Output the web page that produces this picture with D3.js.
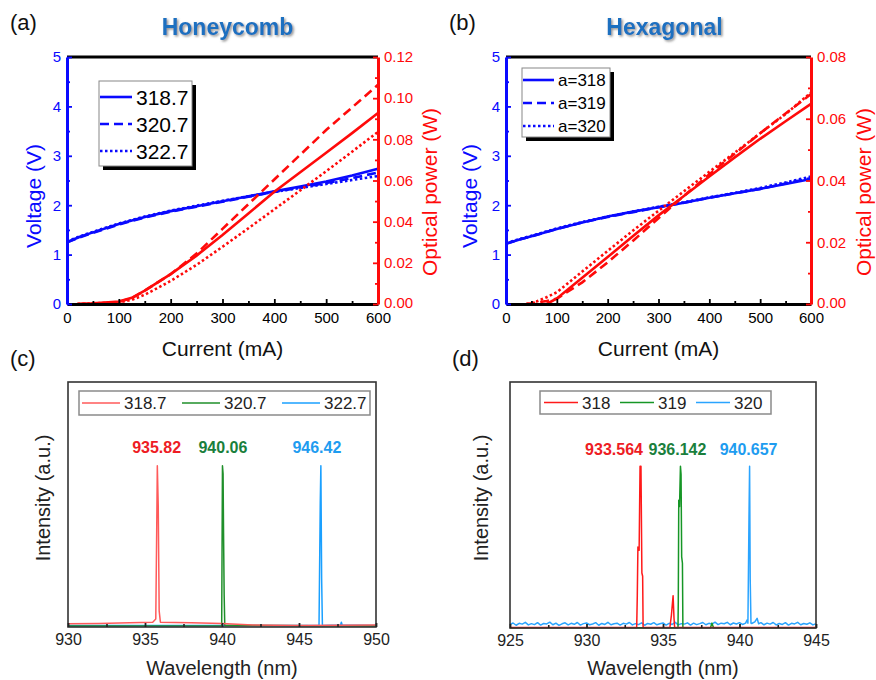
<!DOCTYPE html>
<html>
<head>
<meta charset="utf-8">
<script src="https://cdn.jsdelivr.net/npm/d3@7"></script>
<style>
body{margin:0;background:#fff}
svg{display:block}
text{font-family:"Liberation Sans",Arial,sans-serif}
</style>
</head>
<body>
<svg id="fig" width="876" height="680"></svg>
<script>
// ---- panel (a) Honeycomb, (b) Hexagonal : L-I-V ----
var currentV = [0,25,50,100,150,200,250,300,350,400,450,500,550,600];
var hcVolt = [
  [1.25,1.36,1.45,1.62,1.76,1.88,1.98,2.08,2.18,2.28,2.38,2.48,2.60,2.74],
  [1.25,1.35,1.44,1.61,1.75,1.87,1.97,2.07,2.17,2.27,2.36,2.45,2.55,2.66],
  [1.27,1.37,1.46,1.63,1.77,1.89,1.99,2.09,2.18,2.27,2.35,2.43,2.51,2.59]
];
var hcCurrentP = [20,50,80,100,125,150,175,200,250,300,350,400,450,500,550,600];
var hcPower = [
  [0,0.0003,0.0008,0.0012,0.003,0.0065,0.0105,0.0145,0.0235,0.0335,0.044,0.0545,0.064,0.0735,0.083,0.0928],
  [0,0.0002,0.0006,0.001,0.0028,0.0065,0.0105,0.0145,0.0245,0.0365,0.0485,0.0605,0.0725,0.0845,0.0955,0.1065],
  [0,0.0003,0.0006,0.0008,0.002,0.0045,0.0078,0.0112,0.019,0.0278,0.0368,0.046,0.0552,0.0645,0.074,0.0836]
];
var hcLabels = ["318.7","320.7","322.7"];

var hxVolt = [
  [1.22,1.30,1.37,1.52,1.65,1.77,1.87,1.96,2.05,2.15,2.24,2.33,2.43,2.53],
  [1.22,1.30,1.37,1.52,1.65,1.76,1.86,1.96,2.05,2.15,2.24,2.33,2.44,2.55],
  [1.23,1.31,1.38,1.53,1.66,1.77,1.87,1.97,2.06,2.16,2.25,2.35,2.46,2.58]
];
var hxCurrentP = [40,60,80,100,150,200,250,300,350,400,450,500,550,600];
var hxPower = [
  [null,null,0,0.0018,0.0085,0.0152,0.022,0.0287,0.035,0.0413,0.0475,0.0535,0.0592,0.0648],
  [0,0.0004,0.001,0.0017,0.007,0.0135,0.0205,0.0278,0.035,0.042,0.0487,0.0553,0.0617,0.068],
  [0,0.0008,0.0022,0.0038,0.0105,0.0172,0.0238,0.0302,0.0365,0.0428,0.049,0.0553,0.0615,0.0685]
];
var hxLabels = ["a=318","a=319","a=320"];

var currentTicks = [0,100,200,300,400,500,600];
var voltTicks = [0,1,2,3,4,5];
var hcPowerTicks = [0,0.02,0.04,0.06,0.08,0.10,0.12];
var hxPowerTicks = [0,0.02,0.04,0.06,0.08];

// ---- panel (c), (d) : spectra ----
var specC = [
  [[930,0.02],[932,0.022],[934,0.026],[935.5,0.03],[935.7,0.05],[935.76,0.6],[935.8,1.0],[935.86,0.75],[935.92,0.1],[936,0.03],[938,0.026],[940,0.022],[942,0.012],[945,0.01],[950,0.012]],
  [[930,0.006],[939.98,0.008],[940.03,1.0],[940.07,0.95],[940.1,0.59],[940.14,0.2],[940.18,0.01],[950,0.006]],
  [[930,0.01],[946.3,0.01],[946.38,0.77],[946.42,1.0],[946.47,0.3],[946.52,0.01],[947.7,0.012],[947.75,0.03],[947.8,0.012],[950,0.01]]
];
var specCLabels = ["318.7","320.7","322.7"];
var specCPeaks = ["935.82","940.06","946.42"];
var specCTicks = [930,935,940,945,950];

var specD = [
  [[925,0.003],[933.28,0.003],[933.32,0.2],[933.36,0.5],[933.44,0.48],[933.5,1.0],[933.56,1.0],[933.62,0.34],[933.67,0.32],[933.7,0.003],[935.45,0.003],[935.55,0.08],[935.66,0.2],[935.72,0.06],[935.76,0.003],[945,0.003]],
  [[925,0.002],[935.98,0.002],[936.0,0.17],[936.03,0.79],[936.08,0.75],[936.14,1.0],[936.18,0.95],[936.22,0.44],[936.27,0.4],[936.3,0.002],[938.1,0.002],[938.2,0.03],[938.3,0.002],[945,0.002]],
  [[925.0,0.022],[925.2,0.031],[925.4,0.017],[925.6,0.029],[925.8,0.024],[926.0,0.035],[926.2,0.019],[926.4,0.027],[926.6,0.021],[926.8,0.033],
   [927.0,0.018],[927.2,0.028],[927.4,0.025],[927.6,0.036],[927.8,0.02],[928.0,0.03],[928.2,0.016],[928.4,0.026],[928.6,0.032],[928.8,0.019],
   [929.0,0.029],[929.2,0.023],[929.4,0.034],[929.6,0.018],[929.8,0.027],[930.0,0.031],[930.2,0.02],[930.4,0.025],[930.6,0.033],[930.8,0.017],
   [931.0,0.028],[931.2,0.022],[931.4,0.035],[931.6,0.02],[931.8,0.026],[932.0,0.03],[932.2,0.018],[932.4,0.029],[932.6,0.024],[932.8,0.034],
   [933.0,0.019],[933.2,0.027],[933.4,0.021],[933.6,0.032],[933.8,0.017],[934.0,0.028],[934.2,0.023],[934.4,0.033],[934.6,0.02],[934.8,0.026],
   [935.0,0.031],[935.2,0.018],[935.4,0.029],[935.6,0.022],[935.8,0.035],[936.0,0.019],[936.2,0.027],[936.4,0.024],[936.6,0.032],[936.8,0.018],
   [937.0,0.03],[937.2,0.021],[937.4,0.027],[937.6,0.034],[937.8,0.02],[938.0,0.029],[938.2,0.024],[938.4,0.036],[938.6,0.021],[938.8,0.03],
   [939.0,0.026],[939.2,0.035],[939.4,0.02],[939.6,0.031],[939.8,0.025],[940.0,0.033],[940.2,0.022],[940.4,0.03],[940.5,0.05],[940.55,0.03],
   [940.62,0.68],[940.66,1.0],[940.7,0.3],[940.75,0.03],[940.8,0.028],[941.0,0.038],[941.15,0.06],[941.25,0.026],[941.4,0.033],[941.6,0.02],
   [941.8,0.03],[942.0,0.024],[942.2,0.034],[942.4,0.019],[942.6,0.028],[942.8,0.022],[943.0,0.033],[943.2,0.018],[943.4,0.029],[943.6,0.025],
   [943.8,0.035],[944.0,0.02],[944.2,0.028],[944.4,0.023],[944.6,0.032],[944.8,0.019],[945.0,0.027]]
];
var specDLabels = ["318","319","320"];
var specDPeaks = ["933.564","936.142","940.657"];
var specDTicks = [925,930,935,940,945];

var svg = d3.select("#fig");
var BLUE = "#0a0aff", RED = "#ff0a0a";
var dashes = [null, "9,5", "2.5,2.5"];

var defs = svg.append("defs");
defs.append("filter").attr("id","tshadow").attr("x","-10%").attr("y","-30%").attr("width","130%").attr("height","160%")
  .append("feDropShadow").attr("dx",1.5).attr("dy",1.5).attr("stdDeviation",0.8)
  .attr("flood-color","#777").attr("flood-opacity",0.8);

function style_axis(g, color, size){
  g.selectAll(".tick line").attr("stroke", color).attr("stroke-width", 1.8);
  g.selectAll(".tick text").attr("fill", color).attr("font-size", size)
    .attr("font-family", '"Liberation Sans",Arial,sans-serif');
}

function minor_ticks(list){
  var out = [];
  for(var i = 0; i < list.length - 1; i++) out.push((list[i] + list[i+1]) / 2);
  return out;
}

function draw_dual(cfg){
  var x = d3.scaleLinear().domain([0,600]).range([cfg.x0,cfg.x1]);
  var yv = d3.scaleLinear().domain([0,5]).range([cfg.y1,cfg.y0]);
  var yp = d3.scaleLinear().domain([0,cfg.pmax]).range([cfg.y1,cfg.y0]);
  var g = svg.append("g");

  cfg.volt.forEach(function(s,i){
    var line = d3.line().x(function(d,j){return x(currentV[j])}).y(function(d){return yv(d)});
    g.append("path").datum(s).attr("d", line).attr("fill","none")
      .attr("stroke",BLUE).attr("stroke-width",2.6).attr("stroke-dasharray",dashes[i]);
  });
  cfg.pow.forEach(function(s,i){
    var line = d3.line().defined(function(d){return d !== null})
      .x(function(d,j){return x(cfg.pgrid[j])}).y(function(d){return yp(d)});
    g.append("path").datum(s).attr("d", line).attr("fill","none")
      .attr("stroke",RED).attr("stroke-width",2.6).attr("stroke-dasharray",dashes[i]);
  });

  // bottom
  var bx = g.append("g").attr("transform","translate(0,"+cfg.y1+")")
    .call(d3.axisBottom(x).tickValues(currentTicks).tickSize(-5).tickSizeOuter(0).tickPadding(8));
  g.append("g").attr("transform","translate(0,"+cfg.y1+")")
    .call(d3.axisBottom(x).tickValues(minor_ticks(currentTicks)).tickSize(-3).tickFormat(""))
    .call(function(a){a.select(".domain").remove(); a.selectAll("line").attr("stroke","#000").attr("stroke-width",1.8)});
  bx.select(".domain").attr("stroke","#000").attr("stroke-width",3);
  style_axis(bx, "#000", 15);

  // top spine
  g.append("line").attr("x1",cfg.x0).attr("x2",cfg.x1).attr("y1",cfg.y0).attr("y2",cfg.y0)
    .attr("stroke","#000").attr("stroke-width",3);

  // left voltage
  var lx = g.append("g").attr("transform","translate("+cfg.x0+",0)")
    .call(d3.axisLeft(yv).tickValues(voltTicks).tickSize(-5).tickSizeOuter(0).tickPadding(6).tickFormat(d3.format("d")));
  g.append("g").attr("transform","translate("+cfg.x0+",0)")
    .call(d3.axisLeft(yv).tickValues(minor_ticks(voltTicks)).tickSize(-3).tickFormat(""))
    .call(function(a){a.select(".domain").remove(); a.selectAll("line").attr("stroke",BLUE).attr("stroke-width",1.8)});
  lx.select(".domain").attr("stroke",BLUE).attr("stroke-width",3);
  style_axis(lx, BLUE, 15);

  // right power
  var rx = g.append("g").attr("transform","translate("+cfg.x1+",0)")
    .call(d3.axisRight(yp).tickValues(cfg.pticks).tickSize(-5).tickSizeOuter(0).tickPadding(6).tickFormat(d3.format(".2f")));
  g.append("g").attr("transform","translate("+cfg.x1+",0)")
    .call(d3.axisRight(yp).tickValues(minor_ticks(cfg.pticks)).tickSize(-3).tickFormat(""))
    .call(function(a){a.select(".domain").remove(); a.selectAll("line").attr("stroke",RED).attr("stroke-width",1.8)});
  rx.select(".domain").attr("stroke",RED).attr("stroke-width",3);
  style_axis(rx, RED, 15);
  rx.selectAll(".tick text").filter(function(d){return d === 0}).attr("dy","0.2em");

  // titles
  g.append("text").attr("transform","translate("+cfg.vlabX+",196) rotate(-90)")
    .attr("text-anchor","middle").attr("dy","0.35em").attr("font-size",21).attr("fill",BLUE).text("Voltage (V)");
  g.append("text").attr("transform","translate("+cfg.plabX+",192) rotate(-90)")
    .attr("text-anchor","middle").attr("dy","0.35em").attr("font-size",21).attr("fill",RED).text("Optical power (W)");
  g.append("text").attr("x",(cfg.x0+cfg.x1)/2).attr("y",356).attr("text-anchor","middle")
    .attr("font-size",21).attr("fill","#111").text("Current (mA)");
  g.append("text").attr("x",(cfg.x0+cfg.x1)/2 + cfg.titleDx).attr("y",35).attr("text-anchor","middle")
    .attr("font-family","Lato, 'Liberation Sans', sans-serif").attr("font-weight",900).attr("font-size",23)
    .attr("fill","#1a6fc0").attr("filter","url(#tshadow)").text(cfg.title);
  g.append("text").attr("x",cfg.x0-57).attr("y",30).attr("font-size",22).attr("fill","#111").text(cfg.tag);

  // legend
  var L = cfg.legend;
  g.append("rect").attr("x",L.x+4).attr("y",L.y+4).attr("width",L.w).attr("height",L.h).attr("fill","#000");
  g.append("rect").attr("x",L.x).attr("y",L.y).attr("width",L.w).attr("height",L.h)
    .attr("fill","#fff").attr("stroke","#888").attr("stroke-width",1);
  cfg.labels.forEach(function(t,i){
    var yy = L.y + L.r0 + i*L.dy;
    g.append("line").attr("x1",L.x+1).attr("x2",L.x+L.lw).attr("y1",yy).attr("y2",yy)
      .attr("stroke",BLUE).attr("stroke-width",2.6).attr("stroke-dasharray",dashes[i]);
    g.append("text").attr("x",L.x+L.lw+4).attr("y",yy).attr("dy","0.36em")
      .attr("font-size",L.fs).attr("fill","#000").text(t);
  });
}

function draw_spec(cfg){
  var x = d3.scaleLinear().domain(cfg.dom).range([cfg.x0,cfg.x1]);
  var y = d3.scaleLinear().domain([0,1.52]).range([cfg.y1,cfg.y0]);
  var g = svg.append("g");
  var line = d3.line().x(function(d){return x(d[0])}).y(function(d){return y(d[1])});

  [2,1,0].forEach(function(i){
    g.append("path").datum(cfg.data[i]).attr("d", line).attr("fill","none")
      .attr("stroke",cfg.colors[i]).attr("stroke-width",1.5).attr("stroke-linejoin","round");
  });

  g.append("rect").attr("x",cfg.x0).attr("y",cfg.y0).attr("width",cfg.x1-cfg.x0).attr("height",cfg.y1-cfg.y0)
    .attr("fill","none").attr("stroke","#333").attr("stroke-width",1.6);

  var bx = g.append("g").attr("transform","translate(0,"+cfg.y1+")")
    .call(d3.axisBottom(x).tickValues(cfg.ticks).tickSize(-4).tickSizeOuter(0).tickPadding(7).tickFormat(d3.format("d")));
  bx.select(".domain").remove();
  style_axis(bx, "#222", 16);
  g.append("g").attr("transform","translate(0,"+cfg.y1+")")
    .call(d3.axisBottom(x).tickValues(minor_ticks(cfg.ticks)).tickSize(-3).tickFormat(""))
    .call(function(a){a.select(".domain").remove(); a.selectAll("line").attr("stroke","#222").attr("stroke-width",1.6)});

  g.append("text").attr("x",(cfg.x0+cfg.x1)/2).attr("y",675).attr("text-anchor","middle")
    .attr("font-size",20).attr("fill","#222").text("Wavelength (nm)");
  g.append("text").attr("transform","translate("+cfg.ilabX+",498) rotate(-90)")
    .attr("text-anchor","middle").attr("dy","0.35em").attr("font-size",20).attr("fill","#222").text("Intensity (a.u.)");
  g.append("text").attr("x",cfg.x0-58).attr("y",366).attr("font-size",22).attr("fill","#111").text(cfg.tag);

  cfg.peaks.forEach(function(p,i){
    g.append("text").attr("x",x(+p)+cfg.peakDx[i]).attr("y",cfg.peakY).attr("text-anchor","middle")
      .attr("font-weight","bold").attr("font-size",16).attr("fill",cfg.peakColors[i]).text(p);
  });

  var L = cfg.legend;
  g.append("rect").attr("x",L.x).attr("y",L.y).attr("width",L.w).attr("height",L.h)
    .attr("fill","#fff").attr("stroke","#8a8a8a").attr("stroke-width",1.5);
  cfg.labels.forEach(function(t,i){
    var xx = L.x + L.first + i*L.step, yy = L.y + L.h/2;
    g.append("line").attr("x1",xx).attr("x2",xx+L.lw).attr("y1",yy).attr("y2",yy)
      .attr("stroke",cfg.colors[i]).attr("stroke-width",1.5);
    g.append("text").attr("x",xx+L.lw+4).attr("y",yy).attr("dy","0.36em")
      .attr("font-size",L.fs).attr("fill","#222").text(t);
  });
}

draw_dual({x0:67, x1:378, y0:57, y1:304, pmax:0.12, pticks:hcPowerTicks,
  volt:hcVolt, pow:hcPower, pgrid:hcCurrentP, labels:hcLabels,
  vlabX:34, plabX:430, title:"Honeycomb", titleDx:5, tag:"(a)",
  legend:{x:99, y:81, w:93, h:85, r0:16, dy:27, lw:33, fs:21}});

draw_dual({x0:506, x1:811, y0:57, y1:304, pmax:0.08, pticks:hxPowerTicks,
  volt:hxVolt, pow:hxPower, pgrid:hxCurrentP, labels:hxLabels,
  vlabX:470, plabX:864, title:"Hexagonal", titleDx:6, tag:"(b)",
  legend:{x:522, y:68, w:88, h:69, r0:12, dy:23, lw:32, fs:17}});

draw_spec({x0:68, x1:376, y0:382, y1:627, dom:[930,950], ticks:specCTicks,
  data:specC, colors:["#ff5a5a","#1f8f2a","#1aa0ff"], labels:specCLabels,
  peaks:specCPeaks, peakDx:[-1,0,-4], peakY:453,
  peakColors:["#ee1c24","#1a7f3c","#1e9cf0"], ilabX:43, tag:"(c)",
  legend:{x:79, y:391, w:291, h:24, first:3, step:100, lw:38, fs:17}});

draw_spec({x0:510, x1:816, y0:382, y1:628, dom:[925,945], ticks:specDTicks,
  data:specD, colors:["#ff1a1a","#169626","#2aa4ff"], labels:specDLabels,
  peaks:specDPeaks, peakDx:[-27,-3,-1], peakY:455,
  peakColors:["#ee1c24","#1a7f3c","#1e9cf0"], ilabX:481, tag:"(d)",
  legend:{x:540, y:391, w:231, h:23, first:4, step:76, lw:34, fs:17}});
</script>
</body>
</html>
